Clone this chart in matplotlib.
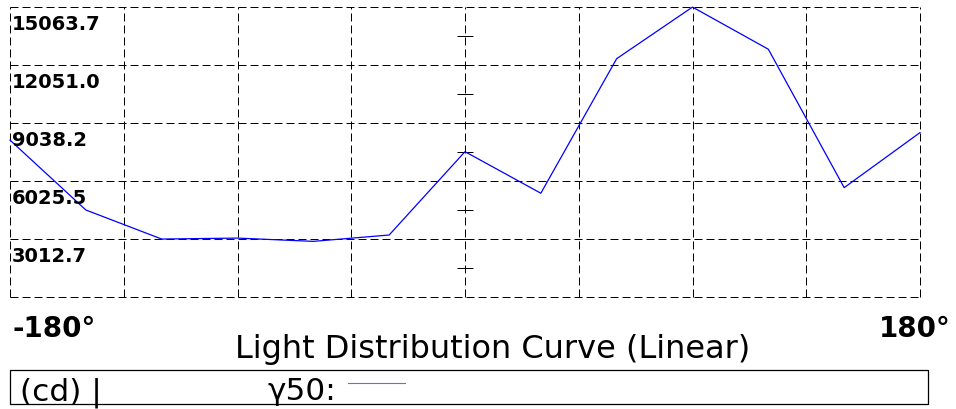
import numpy as np
import matplotlib
matplotlib.use("Agg")
import matplotlib.pyplot as plt
from matplotlib.patches import Rectangle
from matplotlib.lines import Line2D

# light distribution, candela vs angle
angles = [-180, -150, -120, -90, -60, -30, 0, 30, 60, 90, 120, 150, 180]
cd = [8150, 4520, 3010, 3060, 2890, 3220, 7550, 5390, 12380, 15060, 12870, 5680, 8540]
ymax = 15063.7
ylabels = ["3012.7", "6025.5", "9038.2", "12051.0", "15063.7"]
xlabels = ["-180°", "180°"]
title = "Light Distribution Curve (Linear)"
legend_left = "(cd) |"
legend_series = "γ50:"

W, H = 956, 409
fig = plt.figure(figsize=(W / 100, H / 100), dpi=100)

def fx(px):
    return px / W

def fy(py):
    return 1 - py / H

ax = fig.add_axes([fx(10), fy(297), fx(920) - fx(10), fy(7) - fy(297)])
ax.set_xlim(-180, 180)
ax.set_ylim(0, ymax)
for s in ax.spines.values():
    s.set_visible(False)
ax.set_xticks([])
ax.set_yticks([])

dash = (0, (8, 4))
step = ymax / 5
for v in np.arange(-180, 181, 45):
    ax.axvline(v, color="black", lw=0.72, ls=dash, zorder=1, clip_on=False)
for k in range(6):
    ax.axhline(k * step, color="black", lw=0.72, ls=dash, zorder=1, clip_on=False)

# small ticks on centre line
ax.plot([0] * 9, [k * step / 2 for k in range(1, 10)], ls="none",
        marker="_", ms=11.5, mew=0.72, color="black", zorder=2)

ax.plot(angles, cd, color="#0000ff", lw=0.9, zorder=3, clip_on=False)

for i, lab in enumerate(ylabels):
    ax.annotate(lab, xy=(-180, (i + 1) * step), xytext=(1.5, -5.5),
                textcoords="offset points", ha="left", va="top",
                fontsize=14, fontweight="bold", family="DejaVu Sans")

fig.text(fx(12), fy(337), xlabels[0], ha="left", va="baseline",
         fontsize=20, fontweight="bold")
fig.text(fx(951), fy(337), xlabels[1], ha="right", va="baseline",
         fontsize=20, fontweight="bold")
fig.text(fx(493), fy(358), title, ha="center", va="baseline", fontsize=23)

fig.patches.append(Rectangle((fx(10), fy(404)), fx(928) - fx(10), fy(370) - fy(404),
                             transform=fig.transFigure, fill=False,
                             edgecolor="black", lw=0.9))
fig.text(fx(20), fy(400), legend_left, ha="left", va="baseline", fontsize=22.5)
fig.text(fx(267), fy(400), legend_series, ha="left", va="baseline", fontsize=22.5)
fig.lines.append(Line2D([fx(348), fx(405)], [fy(383), fy(383)],
                        transform=fig.transFigure, color="#0000ff", lw=0.8, alpha=0.6))

fig.savefig("out.png", dpi=100)
